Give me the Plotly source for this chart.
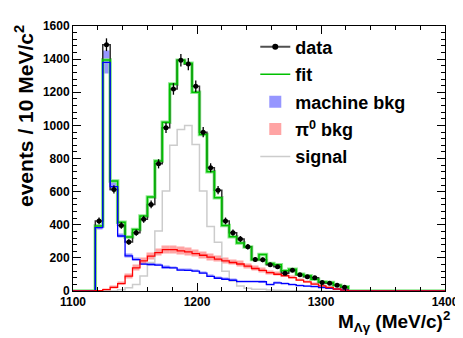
import numpy as np
import plotly.graph_objects as go

# binning: 50 bins of 6 MeV between 1100 and 1400
edges = np.arange(1100, 1401, 6)
centers = edges[:-1] + 3
FIRST = 3  # first filled bin (1118-1124)

# values read from bins 1121 ... 1319 (bin centers)
data_vals = [423, 1487, 613, 396, 296, 352, 433, 523, 768, 985, 1220, 1393, 1370, 1236,
             959, 744, 609, 423, 352, 314, 267, 190, 188, 158, 146, 107, 125, 98, 86, 80,
             51, 47, 35, 23]
fit_vals = [392, 1395, 664, 415, 326, 372, 453, 567, 785, 1019, 1250, 1393, 1375, 1200,
            945, 720, 563, 396, 328, 290, 266, 190, 220, 166, 158, 122, 131, 101, 92, 71,
            55, 51, 35, 25]
machine_vals = [383, 1380, 630, 332, 212, 190, 162, 160, 156, 142, 140, 126, 125, 120,
                108, 88, 77, 71, 65, 57, 57, 57, 56, 38, 49, 45, 38, 33, 30, 26,
                21, 16, 11, 6]
machine_err = [15, 70, 28, 12, 10, 9, 8, 8, 8, 7, 7, 7, 7, 7,
               6, 6, 6, 5, 5, 5, 5, 5, 5, 4, 4, 4, 4, 4, 3, 3,
               3, 2, 2, 1]
pi0_vals = [2, 8, 22, 45, 90, 140, 182, 210, 232, 250, 250, 242, 236, 226,
            216, 204, 192, 182, 172, 163, 150, 136, 124, 111, 101, 92, 81, 66, 55, 42,
            31, 21, 12, 5]
pi0_err = [1, 3, 7, 11, 15, 18, 20, 22, 23, 24, 24, 23, 23, 22,
           21, 20, 19, 18, 17, 16, 15, 14, 13, 12, 11, 10, 9, 8, 7, 6,
           4, 3, 2, 1]
signal_vals = [0, 0, 0, 8, 20, 40, 90, 172, 362, 604, 880, 975, 999, 884,
               604, 389, 295, 120, 60, 30, 17, 11, 10, 6, 4, 3, 2, 2, 1, 1,
               0, 0, 0, 0]


def full(v):
    out = [0] * FIRST + list(v)
    return np.array(out + [0] * (len(centers) - len(out)), dtype=float)


data = full(data_vals)
fit = full(fit_vals)
machine = full(machine_vals)
machine_e = full(machine_err)
pi0 = full(pi0_vals)
pi0_e = full(pi0_err)
signal = full(signal_vals)

FONT = "Liberation Sans"


def step(vals):
    return list(vals) + [vals[-1]]


def hist(vals, color, width, name=None, legend=False, rank=None):
    return go.Scatter(x=edges, y=step(vals), mode="lines", line_shape="hv",
                      line=dict(color=color, width=width), name=name,
                      showlegend=legend, legendrank=rank, legendgroup=name,
                      hoverinfo="skip")


def band(vals, err, color, linecolor, name, rank):
    return go.Bar(x=centers, y=2 * err, base=vals - err, width=6,
                  marker=dict(color=color, line=dict(color=linecolor, width=1)),
                  name=name, legendrank=rank, legendgroup=name, hoverinfo="skip")


fig = go.Figure()
fig.add_trace(band(machine, machine_e, "rgba(80,80,255,0.6)", "rgba(80,80,255,0)", "machine bkg", 3))
fig.add_trace(band(pi0, pi0_e, "rgba(255,90,90,0.55)", "rgba(255,90,90,0)", "π<sup>0</sup> bkg", 4))

fig.add_trace(hist(signal, "#cccccc", 1.5, "signal", True, 5))
fig.add_trace(hist(fit, "#8ee88e", 3.5))
fig.add_trace(hist(data, "#303030", 1.5))
fig.add_trace(hist(fit, "#00c000", 1.5, "fit", True, 2))
fig.add_trace(hist(machine, "#0000ff", 1.3))
fig.add_trace(hist(pi0, "#ff0000", 1.3))

mask = data > 0
fig.add_trace(go.Scatter(
    x=centers[mask], y=data[mask], mode="markers",
    marker=dict(color="black", size=5),
    error_y=dict(type="data", array=np.sqrt(data[mask]), color="black", thickness=1.3, width=0),
    error_x=dict(type="constant", value=1.6, color="black", thickness=1.3, width=0),
    showlegend=False, hoverinfo="skip"))
# legend entry for data (line + dot)
fig.add_trace(go.Scatter(x=[None], y=[None], mode="lines+markers", name="data",
                         line=dict(color="#505050", width=2),
                         marker=dict(color="black", size=6),
                         legendrank=1, legendgroup="data"))

axis = dict(showline=True, linecolor="black", linewidth=1, mirror="allticks",
            ticks="inside", tickcolor="black", ticklen=8, tickwidth=1,
            showgrid=False, zeroline=False, automargin=False,
            tickfont=dict(family=FONT, size=12, color="black", weight="bold"))

fig.update_xaxes(range=[1100, 1400], tick0=1100, dtick=100,
                 minor=dict(ticks="inside", dtick=20, ticklen=4, tickcolor="black"), **axis)
fig.update_yaxes(range=[0, 1600], tick0=0, dtick=200,
                 minor=dict(ticks="inside", dtick=40, ticklen=4, tickcolor="black"), **axis)

fig.update_layout(
    width=463, height=338,
    margin=dict(l=65, r=26, t=18, b=55),
    plot_bgcolor="white", paper_bgcolor="white",
    barmode="overlay", bargap=0,
    font=dict(family=FONT, color="black"),
    legend=dict(x=0.49, y=0.99, xanchor="left", yanchor="top",
                bgcolor="rgba(0,0,0,0)", traceorder="grouped", tracegroupgap=1,
                itemwidth=30,
                font=dict(family=FONT, size=18, color="black", weight="bold")),
    annotations=[
        dict(text="<b>events / 10 MeV/c<sup>2</sup></b>", textangle=-90,
             xref="paper", yref="paper", x=-0.13, y=1.01, xanchor="center", yanchor="top",
             showarrow=False, font=dict(family=FONT, size=21, color="black")),
        dict(text="<b>M<sub>Λγ</sub> (MeV/c)<sup>2</sup></b>",
             xref="paper", yref="paper", x=1.02, y=-0.058, xanchor="right", yanchor="top",
             showarrow=False, font=dict(family=FONT, size=19, color="black")),
    ],
)

fig.write_html("out.html")
